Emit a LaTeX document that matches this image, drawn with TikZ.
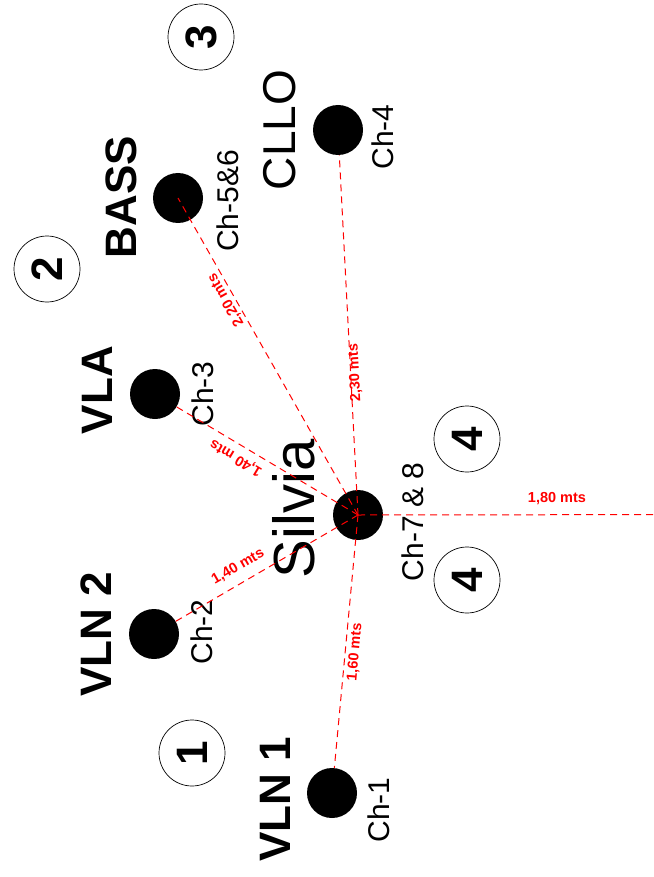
\documentclass[tikz,border=0pt]{standalone}
\usepackage{fontspec}
\setmainfont{Liberation Sans}
\begin{document}
\begin{tikzpicture}[x=1pt,y=-1pt,
  dot/.style={circle,fill=black,minimum size=50pt,inner sep=0pt},
  numcirc/.style={circle,draw=black,line width=0.7pt,minimum size=66pt,inner sep=0pt,
    font=\fontsize{44}{44}\selectfont\bfseries,rotate=90},
  bigname/.style={inner sep=0pt,rotate=90,font=\fontsize{44}{44}\selectfont\bfseries},
  bignamereg/.style={inner sep=0pt,rotate=90,font=\fontsize{46}{46}\selectfont},
  chlabel/.style={inner sep=0pt,rotate=90,font=\fontsize{30}{30}\selectfont},
  dist/.style={draw=red,line width=1pt,dash pattern=on 7pt off 5pt},
  distlabel/.style={inner sep=0pt,text=red,font=\fontsize{14.5}{14.5}\selectfont\bfseries}]
\useasboundingbox (0,0) rectangle (653,877);
% numbered circles
\node[numcirc] (n3) at (201,37) {3};
\node[numcirc] (n2) at (47,269) {2};
\node[numcirc] (n4a) at (467,439) {4};
\node[numcirc] (n4b) at (467,580) {4};
\node[numcirc] (n1) at (192,753) {1};
% names
\node[bignamereg] (tcllo) at (280,130) {CLLO};
\node[bigname] (tbass) at (121,197) {BASS};
\node[bigname] (tvla) at (97,390) {VLA};
\node[bigname] (tvln2) at (96,634) {VLN 2};
\node[bigname] (tvln1) at (275,799) {VLN 1};
\node[inner sep=0pt,rotate=90,font=\fontsize{58}{58}\selectfont] (tsil) at (294,509) {Silvia};
% channel labels
\node[chlabel] (c4) at (383,137) {Ch-4};
\node[chlabel] (c56) at (228,201) {Ch-5\&6};
\node[chlabel] (c3) at (203,394) {Ch-3};
\node[chlabel] (c2) at (202,632) {Ch-2};
\node[chlabel] (c1) at (379,810) {Ch-1};
\node[chlabel] (c78) at (413,522) {Ch-7 \& 8};
% dots
\node[dot] (sil) at (358,515) {};
\node[dot] (cllo) at (338,130) {};
\node[dot] (bass) at (178,198) {};
\node[dot] (vla) at (155,394) {};
\node[dot] (vln2) at (154,634) {};
\node[dot] (vln1) at (332,793) {};
\coordinate (rightend) at (653,514.6);
% distance lines
\draw[dist] (sil.center) -- (cllo);
\draw[dist] (sil.center) -- (bass.center);
\draw[dist] (sil.center) -- (vla);
\draw[dist] (sil.center) -- (vln2);
\draw[dist] (sil.center) -- (vln1);
\draw[dist] (sil.center) -- (rightend);
% distance labels
\node[distlabel] (d180) at (557,499) {1,80 mts};
\node[distlabel,rotate=93] (d230) at (355,373) {2,30 mts};
\node[distlabel,rotate=85] (d160) at (355,652) {1,60 mts};
\node[distlabel,rotate=120] (d220) at (226,300) {2,20 mts};
\node[distlabel,rotate=149] (d140a) at (236,458) {1,40 mts};
\node[distlabel,rotate=30] (d140b) at (238,567) {1,40 mts};
\end{tikzpicture}
\end{document}
